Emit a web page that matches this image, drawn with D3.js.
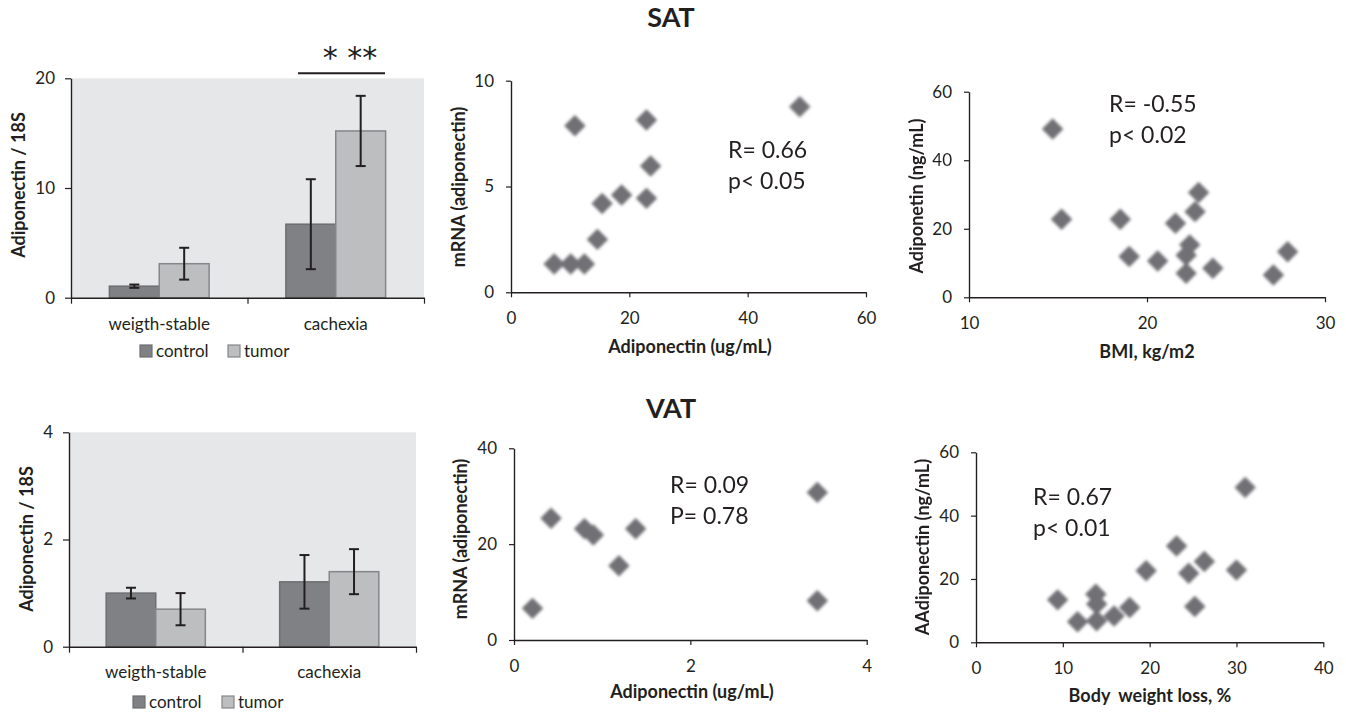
<!DOCTYPE html>
<html>
<head>
<meta charset="utf-8">
<script src="https://cdn.jsdelivr.net/npm/d3@7"></script>
<style>
    body { margin: 0; background: #fff; }
    svg { display: block; font-family: Lato, 'Open Sans', sans-serif; }
</style>
</head>
<body>
<svg id="chart" width="1346" height="712"></svg>
<script>
// Values

// bar panels
const groups = ['weigth-stable', 'cachexia'];
const seriesNames = ['control', 'tumor'];

const satControlMean = [1.05, 6.7];
const satControlSD = [0.15, 4.1];
const satTumorMean = [3.1, 15.2];
const satTumorSD = [1.45, 3.2];

const vatControlMean = [1.0, 1.21];
const vatControlSD = [0.1, 0.5];
const vatTumorMean = [0.7, 1.4];
const vatTumorSD = [0.3, 0.42];

// SAT: mRNA vs serum adiponectin
const satMrnaX = [7.3, 10.1, 12.4, 14.6, 15.4, 18.7, 22.9, 10.8, 22.9, 23.6, 48.8];
const satMrnaY = [1.34, 1.34, 1.34, 2.5, 4.2, 4.6, 4.44, 7.87, 8.14, 5.97, 8.77];

// SAT: serum adiponectin vs BMI
const bmiX = [14.7, 15.2, 18.5, 19.0, 20.6, 21.6, 22.9, 22.7, 22.4, 22.2, 22.2, 23.7, 27.1, 27.9];
const bmiY = [49.1, 22.8, 22.8, 11.9, 10.6, 21.6, 30.6, 25.0, 15.3, 12.3, 7.0, 8.5, 6.5, 13.3];

// VAT: mRNA vs serum adiponectin
const vatMrnaX = [0.21, 0.42, 0.8, 0.9, 1.19, 1.38, 3.44, 3.44];
const vatMrnaY = [6.6, 25.4, 23.2, 21.9, 15.5, 23.2, 30.8, 8.2];

// VAT: serum adiponectin vs body weight loss
const lossX = [9.4, 11.7, 13.8, 13.9, 13.9, 15.9, 17.7, 19.6, 23.1, 24.5, 26.3, 25.2, 30.0, 31.0];
const lossY = [13.4, 6.5, 15.2, 12.1, 6.8, 8.3, 11.0, 22.6, 30.4, 21.8, 25.5, 11.3, 22.8, 48.9];

const ink = '#231f20';
const controlFill = '#808184', controlStroke = '#6d6e71';
const tumorFill = '#bcbec0', tumorStroke = '#858689';
const fmt = d3.format('~g');

const svg = d3.select('#chart');

// soft edge on the scatter diamonds
svg.append('defs').append('filter')
    .attr('id', 'soft')
    .attr('x', '-50%').attr('y', '-50%')
    .attr('width', '200%').attr('height', '200%')
  .append('feGaussianBlur')
    .attr('stdDeviation', 1.6);

function styleAxis(g) {
    g.attr('font-family', null).attr('font-size', 17);
    g.select('.domain').attr('stroke', ink).attr('stroke-width', 1.4);
    g.selectAll('.tick line').attr('stroke', ink).attr('stroke-width', 1.2);
    g.selectAll('.tick text').attr('fill', ink);
}

function yLabel(x, y, text) {
    svg.append('text')
        .attr('transform', `translate(${x},${y}) rotate(-90)`)
        .attr('text-anchor', 'middle')
        .attr('dy', '0.35em')
        .style('font-size', '18px')
        .style('font-weight', 'bold')
        .attr('fill', ink)
        .text(text);
}

function drawBars(cfg) {
    const y = d3.scaleLinear().domain([0, cfg.yMax]).range([cfg.bottom, cfg.top]);
    const x0 = d3.scaleBand().domain(groups).range([cfg.left, cfg.right]);
    const x1 = d3.scaleBand().domain(seriesNames)
        .range([0, x0.bandwidth()])
        .paddingInner(0)
        .paddingOuter(cfg.pad);

    svg.append('rect')
        .attr('x', cfg.left).attr('y', cfg.top)
        .attr('width', cfg.right - cfg.left)
        .attr('height', cfg.bottom - cfg.top)
        .attr('fill', '#e6e7e8');

    const rows = [];
    groups.forEach((grp, i) => {
        rows.push({grp, s: 'control', v: cfg.control[i], sd: cfg.controlSD[i]});
        rows.push({grp, s: 'tumor', v: cfg.tumor[i], sd: cfg.tumorSD[i]});
    });

    svg.append('g').selectAll('rect')
        .data(rows)
      .enter().append('rect')
        .attr('x', d => x0(d.grp) + x1(d.s))
        .attr('y', d => y(d.v))
        .attr('width', x1.bandwidth())
        .attr('height', d => y(0) - y(d.v))
        .attr('fill', d => d.s === 'control' ? controlFill : tumorFill)
        .attr('stroke', d => d.s === 'control' ? controlStroke : tumorStroke)
        .attr('stroke-width', 1.5);

    // error bars
    const eb = svg.append('g').attr('stroke', ink).attr('stroke-width', 2);
    rows.forEach(d => {
        const cx = x0(d.grp) + x1(d.s) + x1.bandwidth() / 2;
        eb.append('line').attr('x1', cx).attr('x2', cx)
            .attr('y1', y(d.v - d.sd)).attr('y2', y(d.v + d.sd));
        [d.v - d.sd, d.v + d.sd].forEach(v => {
            eb.append('line').attr('x1', cx - 5).attr('x2', cx + 5)
                .attr('y1', y(v)).attr('y2', y(v));
        });
    });

    svg.append('g')
        .attr('transform', `translate(${cfg.left},0)`)
        .call(d3.axisLeft(y).tickValues(cfg.yTicks).tickFormat(fmt).tickSize(6).tickPadding(10).tickSizeOuter(0))
        .call(styleAxis);

    // category boundaries carry the x ticks
    const xb = d3.scaleLinear().domain([0, groups.length]).range([cfg.left, cfg.right]);
    svg.append('g')
        .attr('transform', `translate(0,${cfg.bottom})`)
        .call(d3.axisBottom(xb).tickValues(d3.range(groups.length + 1)).tickFormat('').tickSize(6).tickSizeOuter(0))
        .call(styleAxis);

    svg.append('g').selectAll('text')
        .data(groups)
      .enter().append('text')
        .attr('x', d => x0(d) + x0.bandwidth() / 2)
        .attr('y', cfg.catY)
        .attr('text-anchor', 'middle')
        .style('font-size', '17px')
        .attr('fill', ink)
        .text(d => d);

    yLabel(cfg.labelX, cfg.labelY, 'Adiponectin / 18S');

    // legend
    const lg = svg.append('g');
    seriesNames.forEach((s, i) => {
        const lx = cfg.legendX[i];
        lg.append('rect')
            .attr('x', lx).attr('y', cfg.legendY - 12)
            .attr('width', 12).attr('height', 12)
            .attr('fill', s === 'control' ? controlFill : tumorFill)
            .attr('stroke', s === 'control' ? controlStroke : tumorStroke)
            .attr('stroke-width', 1.2);
        lg.append('text')
            .attr('x', lx + 16).attr('y', cfg.legendY)
            .style('font-size', '17px')
            .attr('fill', ink)
            .text(s);
    });
}

function drawScatter(cfg) {
    const x = d3.scaleLinear().domain(cfg.xDomain).range([cfg.left, cfg.right]);
    const y = d3.scaleLinear().domain(cfg.yDomain).range([cfg.bottom, cfg.top]);

    svg.append('g')
        .attr('transform', `translate(0,${cfg.bottom})`)
        .call(d3.axisBottom(x).tickValues(cfg.xTicks).tickFormat(fmt).tickSize(5).tickPadding(15).tickSizeOuter(0))
        .call(styleAxis);

    svg.append('g')
        .attr('transform', `translate(${cfg.left},0)`)
        .call(d3.axisLeft(y).tickValues(cfg.yTicks).tickFormat(fmt).tickSize(5).tickPadding(12).tickSizeOuter(0))
        .call(styleAxis);

    const diamond = d3.symbol(d3.symbolSquare, 230);
    svg.append('g')
        .attr('filter', 'url(#soft)')
        .selectAll('path')
        .data(cfg.xs.map((v, i) => [v, cfg.ys[i]]))
      .enter().append('path')
        .attr('d', diamond)
        .attr('transform', d => `translate(${x(d[0])},${y(d[1])}) rotate(45)`)
        .attr('fill', '#6f7074');

    svg.append('text')
        .attr('x', cfg.xLabelPos[0]).attr('y', cfg.xLabelPos[1])
        .attr('text-anchor', 'middle')
        .style('font-size', '18px')
        .style('font-weight', 'bold')
        .style('white-space', 'pre')
        .attr('fill', ink)
        .text(cfg.xLabel);

    yLabel(cfg.yLabelPos[0], cfg.yLabelPos[1], cfg.yLabel);

    cfg.note.forEach((line, i) => {
        svg.append('text')
            .attr('x', cfg.notePos[0])
            .attr('y', cfg.notePos[1] + i * 31)
            .style('font-size', '23px')
            .attr('fill', ink)
            .text(line);
    });
}

// section titles
[['SAT', 18], ['VAT', 409]].forEach(([t, cy]) => {
    svg.append('text')
        .attr('x', 671).attr('y', cy)
        .attr('dy', '0.35em')
        .attr('text-anchor', 'middle')
        .style('font-size', '27px')
        .style('font-weight', 'bold')
        .attr('fill', ink)
        .text(t);
});

drawBars({
    left: 71, right: 424, top: 78.3, bottom: 297.7, pad: 0.77,
    yMax: 20, yTicks: [0, 10, 20],
    control: satControlMean, controlSD: satControlSD,
    tumor: satTumorMean, tumorSD: satTumorSD,
    catY: 330, labelX: 19, labelY: 185,
    legendX: [140, 228], legendY: 357
});

// significance bracket over cachexia
svg.append('line')
    .attr('x1', 298).attr('x2', 385)
    .attr('y1', 73.3).attr('y2', 73.3)
    .attr('stroke', ink).attr('stroke-width', 2);
svg.append('text')
    .attr('x', 350).attr('y', 68)
    .attr('text-anchor', 'middle')
    .style('font-family', "'DejaVu Sans', sans-serif")
    .style('font-size', '30px')
    .style('white-space', 'pre')
    .attr('fill', ink)
    .text('* **');

drawBars({
    left: 69, right: 416, top: 432.3, bottom: 646.7, pad: 0.75,
    yMax: 4, yTicks: [0, 2, 4],
    control: vatControlMean, controlSD: vatControlSD,
    tumor: vatTumorMean, tumorSD: vatTumorSD,
    catY: 678, labelX: 27, labelY: 539,
    legendX: [133, 222], legendY: 708
});

drawScatter({
    left: 511, right: 866, top: 80.7, bottom: 292.3,
    xDomain: [0, 60], xTicks: [0, 20, 40, 60],
    yDomain: [0, 10], yTicks: [0, 5, 10],
    xs: satMrnaX, ys: satMrnaY,
    xLabel: 'Adiponectin (ug/mL)', xLabelPos: [690, 353],
    yLabel: 'mRNA (adiponectin)', yLabelPos: [459, 187],
    note: ['R= 0.66', 'p< 0.05'], notePos: [728, 158]
});

drawScatter({
    left: 969, right: 1325, top: 91.7, bottom: 297.3,
    xDomain: [10, 30], xTicks: [10, 20, 30],
    yDomain: [0, 60], yTicks: [0, 20, 40, 60],
    xs: bmiX, ys: bmiY,
    xLabel: 'BMI, kg/m2', xLabelPos: [1147, 358],
    yLabel: 'Adiponetin (ng/mL)', yLabelPos: [917, 196],
    note: ['R= -0.55', 'p< 0.02'], notePos: [1109, 112]
});

drawScatter({
    left: 514, right: 866.7, top: 448.3, bottom: 640,
    xDomain: [0, 4], xTicks: [0, 2, 4],
    yDomain: [0, 40], yTicks: [0, 20, 40],
    xs: vatMrnaX, ys: vatMrnaY,
    xLabel: 'Adiponectin (ug/mL)', xLabelPos: [692, 698],
    yLabel: 'mRNA (adiponectin)', yLabelPos: [461, 539],
    note: ['R= 0.09', 'P= 0.78'], notePos: [670, 493]
});

drawScatter({
    left: 976, right: 1323.3, top: 452.3, bottom: 642.3,
    xDomain: [0, 40], xTicks: [0, 10, 20, 30, 40],
    yDomain: [0, 60], yTicks: [0, 20, 40, 60],
    xs: lossX, ys: lossY,
    xLabel: 'Body  weight loss, %', xLabelPos: [1150, 702],
    yLabel: 'AAdiponectin (ng/mL)', yLabelPos: [923, 547],
    note: ['R= 0.67', 'p< 0.01'], notePos: [1033, 505]
});
</script>
</body>
</html>
